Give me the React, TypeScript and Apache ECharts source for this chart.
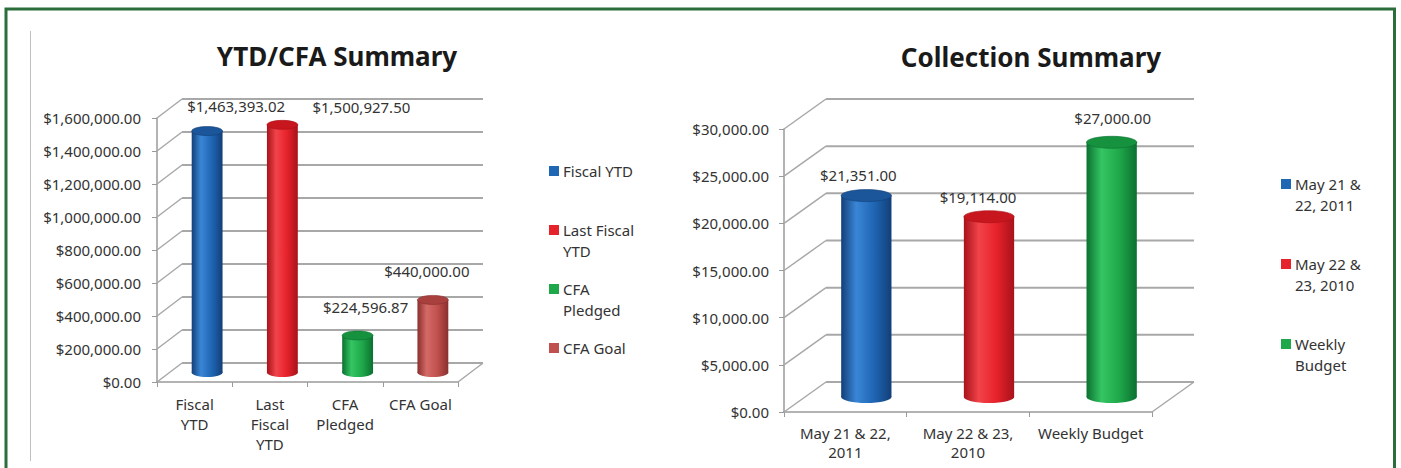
import React, { useEffect, useRef } from "react";
import * as echarts from "echarts";

// ---------- data ----------
const ytdCategories = ["Fiscal YTD", "Last Fiscal YTD", "CFA Pledged", "CFA Goal"];
const ytdAxisLabels = ["Fiscal\nYTD", "Last\nFiscal\nYTD", "CFA\nPledged", "CFA Goal"];
const ytdLegendLabels = ["Fiscal YTD", "Last Fiscal\nYTD", "CFA\nPledged", "CFA Goal"];
const ytdValues = [1463393.02, 1500927.5, 224596.87, 440000.0];
const ytdTicks = [0, 200000, 400000, 600000, 800000, 1000000, 1200000, 1400000, 1600000];

const collCategories = ["May 21 & 22, 2011", "May 22 & 23, 2010", "Weekly Budget"];
const collAxisLabels = ["May 21 & 22,\n2011", "May 22 & 23,\n2010", "Weekly Budget"];
const collLegendLabels = ["May 21 &\n22, 2011", "May 22 &\n23, 2010", "Weekly\nBudget"];
const collValues = [21351.0, 19114.0, 27000.0];
const collTicks = [0, 5000, 10000, 15000, 20000, 25000, 30000];

// ---------- style ----------
const FONT = "Noto Sans";
const FS = 15;
const TEXT = "#333333";
const GRID_LINE = "#A8A8A8";

type Pal = { dark: string; light: string; base: string; top: string };
const BLUE: Pal = { dark: "#123f78", light: "#3a86d6", base: "#1f66b4", top: "#1b569a" };
const RED: Pal = { dark: "#a8121a", light: "#f2434a", base: "#e6222b", top: "#c8161e" };
const GREEN: Pal = { dark: "#0b7030", light: "#35c563", base: "#1fa84a", top: "#16913e" };
const ROSE: Pal = { dark: "#8a2f2d", light: "#d46a67", base: "#c0504d", top: "#a8403e" };

const ytdColors = [BLUE, RED, GREEN, ROSE];
const collColors = [BLUE, RED, GREEN];

// label placement tweaks (layout only)
const ytdLabelDx = [29, 79, 8, -6];
const ytdLabelDy = [-25, -18, -28, -29];
const collLabelDx = [-8, -11, 1];
const collLabelDy = [-21, -20, -24];

const fmtMoney = (v: number) =>
  "$" + v.toLocaleString("en-US", { minimumFractionDigits: 2, maximumFractionDigits: 2 });

function frameRender(dx: number, dy: number) {
  return (params: any, api: any) => {
    const v = api.value(1);
    const cs = params.coordSys;
    const y = api.coord([0, v])[1];
    const x0 = cs.x;
    const x1 = cs.x + cs.width;
    const children: any[] = [
      { type: "line", shape: { x1: x0, y1: y, x2: x0 + dx, y2: y - dy }, style: { stroke: GRID_LINE, lineWidth: 1.5 } },
      { type: "line", shape: { x1: x0 + dx, y1: y - dy, x2: x1 + dx, y2: y - dy }, style: { stroke: GRID_LINE, lineWidth: 2 } },
    ];
    if (v === 0) {
      children.push({ type: "line", shape: { x1: x1, y1: y, x2: x1 + dx, y2: y - dy }, style: { stroke: GRID_LINE, lineWidth: 1.5 } });
    }
    return { type: "group", children };
  };
}

function cylinderRender(
  dx: number,
  dy: number,
  widthRatio: number,
  ry: number,
  colors: Pal[],
  labelDx: number[],
  labelDy: number[]
) {
  return (params: any, api: any) => {
    const i = params.dataIndex;
    const idx = api.value(0);
    const v = api.value(1);
    const base = api.coord([idx, 0]);
    const top = api.coord([idx, v]);
    const band = api.size([1, 0])[0];
    const w = band * widthRatio;
    const rx = w / 2;
    const cx = base[0] + dx / 2;
    const by = base[1] - dy / 2;
    const ty = top[1] - dy / 2;
    const c = colors[i];
    const grad = {
      type: "linear",
      x: 0, y: 0, x2: 1, y2: 0,
      colorStops: [
        { offset: 0, color: c.dark },
        { offset: 0.3, color: c.light },
        { offset: 0.65, color: c.base },
        { offset: 1, color: c.dark },
      ],
    };
    return {
      type: "group",
      children: [
        { type: "ellipse", shape: { cx, cy: by, rx, ry }, style: { fill: grad } },
        { type: "rect", shape: { x: cx - rx, y: ty, width: w, height: by - ty }, style: { fill: grad } },
        { type: "ellipse", shape: { cx, cy: ty, rx, ry }, style: { fill: c.top, stroke: c.dark, lineWidth: 0.6 } },
        {
          type: "text",
          x: cx + labelDx[i],
          y: ty + labelDy[i],
          style: {
            text: fmtMoney(v),
            align: "center",
            verticalAlign: "middle",
            fontFamily: FONT,
            fontSize: FS,
            fill: TEXT,
          },
        },
      ],
    };
  };
}

function legendGraphics(labels: string[], colors: Pal[], x: number, y0: number, step: number) {
  const out: any[] = [];
  labels.forEach((lab, k) => {
    const cy = y0 + k * step;
    out.push({ type: "rect", shape: { x, y: cy - 5, width: 10, height: 10 }, style: { fill: colors[k].base } });
    out.push({
      type: "text",
      x: x + 14,
      y: cy - 10.5,
      style: { text: lab, fontFamily: FONT, fontSize: FS, lineHeight: 21, fill: TEXT, align: "left", verticalAlign: "top" },
    });
  });
  return out;
}

const axisText = { fontFamily: FONT, fontSize: FS, color: TEXT };

export default function App() {
  const ref = useRef<HTMLDivElement>(null);
  useEffect(() => {
    if (!ref.current) return;
    const chart = echarts.init(ref.current, undefined, { renderer: "svg" });
    const option: any = {
      animation: false,
      backgroundColor: "#ffffff",
      grid: [
        { left: 157, right: 1401 - 458, top: 118, bottom: 468 - 382 },
        { left: 784, right: 1401 - 1152, top: 129, bottom: 468 - 412 },
      ],
      xAxis: [
        {
          type: "category",
          gridIndex: 0,
          data: ytdCategories,
          boundaryGap: true,
          axisLine: { show: true, lineStyle: { color: "#9A9A9A", width: 1.5 } },
          axisTick: { show: true, length: 5, lineStyle: { color: "#9A9A9A" } },
          axisLabel: {
            ...axisText,
            margin: 12,
            lineHeight: 20,
            interval: 0,
            formatter: (_: string, k: number) => ytdAxisLabels[k],
          },
          splitLine: { show: false },
        },
        {
          type: "category",
          gridIndex: 1,
          data: collCategories,
          boundaryGap: true,
          axisLine: { show: true, lineStyle: { color: "#9A9A9A", width: 1.5 } },
          axisTick: { show: true, length: 5, lineStyle: { color: "#9A9A9A" } },
          axisLabel: {
            ...axisText,
            margin: 11,
            lineHeight: 19,
            interval: 0,
            formatter: (_: string, k: number) => collAxisLabels[k],
          },
          splitLine: { show: false },
        },
      ],
      yAxis: [
        {
          type: "value",
          gridIndex: 0,
          min: 0,
          max: 1600000,
          interval: 200000,
          axisLine: { show: true, lineStyle: { color: "#9A9A9A", width: 1.5 } },
          axisTick: { show: true, length: 5, lineStyle: { color: "#9A9A9A" } },
          axisLabel: { ...axisText, margin: 16, formatter: (v: number) => fmtMoney(v) },
          splitLine: { show: false },
        },
        {
          type: "value",
          gridIndex: 1,
          min: 0,
          max: 30000,
          interval: 5000,
          axisLine: { show: true, lineStyle: { color: "#9A9A9A", width: 1.5 } },
          axisTick: { show: true, length: 5, lineStyle: { color: "#9A9A9A" } },
          axisLabel: { ...axisText, margin: 15, formatter: (v: number) => fmtMoney(v) },
          splitLine: { show: false },
        },
      ],
      series: [
        {
          type: "custom",
          xAxisIndex: 0,
          yAxisIndex: 0,
          clip: false,
          silent: true,
          z: 1,
          renderItem: frameRender(25, 19),
          data: ytdTicks.map((t) => [0, t]),
        },
        {
          type: "custom",
          xAxisIndex: 0,
          yAxisIndex: 0,
          clip: false,
          z: 3,
          renderItem: cylinderRender(25, 19, 0.41, 4.5, ytdColors, ytdLabelDx, ytdLabelDy),
          data: ytdValues.map((v, k) => [k, v]),
        },
        {
          type: "custom",
          xAxisIndex: 1,
          yAxisIndex: 1,
          clip: false,
          silent: true,
          z: 1,
          renderItem: frameRender(42, 30),
          data: collTicks.map((t) => [0, t]),
        },
        {
          type: "custom",
          xAxisIndex: 1,
          yAxisIndex: 1,
          clip: false,
          z: 3,
          renderItem: cylinderRender(42, 30, 0.41, 6, collColors, collLabelDx, collLabelDy),
          data: collValues.map((v, k) => [k, v]),
        },
      ],
      graphic: [
        {
          type: "polyline",
          shape: { points: [[6, 470], [6, 9], [1394.5, 9], [1394.5, 470]] },
          style: { stroke: "#2B6E3C", lineWidth: 3, fill: "none" },
        },
        { type: "line", shape: { x1: 30.5, y1: 31, x2: 30.5, y2: 461 }, style: { stroke: "#C0C0C0", lineWidth: 1 } },
        {
          type: "text",
          x: 337,
          y: 56,
          style: { text: "YTD/CFA Summary", fontFamily: FONT, fontWeight: "bold", fontSize: 26, fill: "#1a1a1a", align: "center", verticalAlign: "middle" },
        },
        {
          type: "text",
          x: 1031,
          y: 57,
          style: { text: "Collection Summary", fontFamily: FONT, fontWeight: "bold", fontSize: 26, fill: "#1a1a1a", align: "center", verticalAlign: "middle" },
        },
        ...legendGraphics(ytdLegendLabels, ytdColors, 549, 171, 59),
        ...legendGraphics(collLegendLabels, collColors, 1281, 184, 80),
      ],
    };
    chart.setOption(option);
    return () => chart.dispose();
  }, []);
  return <div ref={ref} style={{ position: "absolute", left: 0, top: 0, width: 1401, height: 468 }} />;
}
